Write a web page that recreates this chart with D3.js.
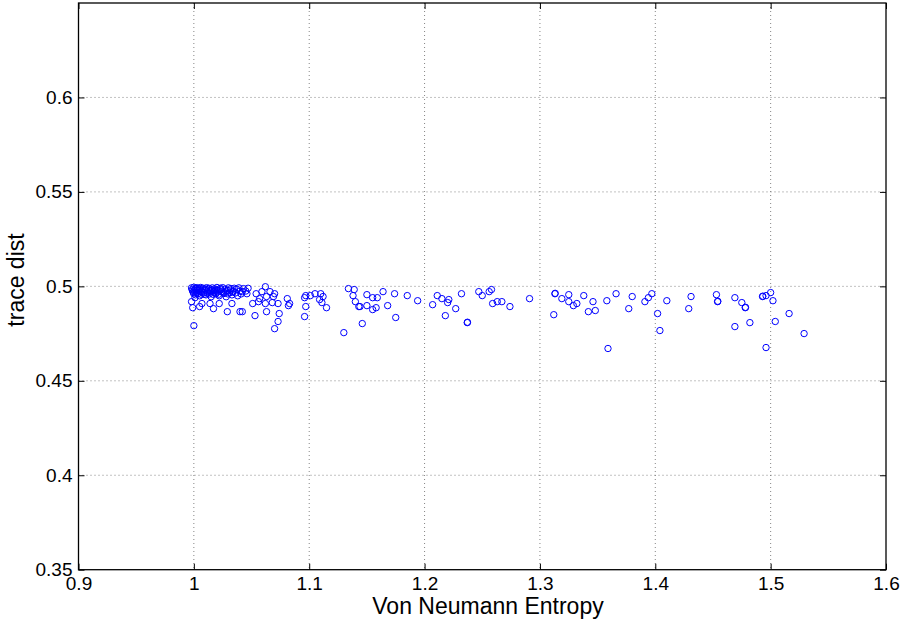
<!DOCTYPE html>
<html>
<head>
<meta charset="utf-8">
<script src="https://cdn.jsdelivr.net/npm/d3@7/dist/d3.min.js"></script>
<style>
  html, body { margin: 0; padding: 0; background: #fff; }
  svg { display: block; }
  text { font-family: "Liberation Sans", Arial, Helvetica, sans-serif; fill: #000; }
</style>
</head>
<body>
<svg id="chart" width="900" height="625"></svg>
<script>
// ---- Data ----
const xTicks = [0.9, 1.0, 1.1, 1.2, 1.3, 1.4, 1.5, 1.6];
const xTickLabels = ["0.9", "1", "1.1", "1.2", "1.3", "1.4", "1.5", "1.6"];
const yTicks = [0.35, 0.4, 0.45, 0.5, 0.55, 0.6];
const yTickLabels = ["0.35", "0.4", "0.45", "0.5", "0.55", "0.6"];
const xLabel = "Von Neumann Entropy";
const yLabel = "trace dist";

const entropy = [
  0.998,0.999,1.000,1.000,1.001,1.001,1.002,1.002,1.003,1.004,1.005,1.005,1.006,1.007,1.008,1.009,1.010,1.011,1.012,1.013,
  1.014,1.015,1.016,1.017,1.018,1.019,1.020,1.021,1.022,1.023,1.024,1.025,1.026,1.027,1.028,1.029,1.030,1.031,1.032,1.033,
  1.034,1.035,1.036,1.037,1.038,1.039,1.040,1.041,1.043,1.045,1.047,
  0.9985,0.9995,1.0005,1.0015,1.0025,1.0035,1.0045,1.0055,1.0065,1.0075,1.0085,1.0095,1.0105,1.0115,1.0125,1.0135,1.0145,1.0155,
  1.0165,1.0175,1.0185,1.0195,1.0205,1.0215,1.0235,1.0255,1.0275,1.0295,1.0315,1.0335,
  0.998,0.999,1.005,1.007,1.014,1.017,1.022,1.029,1.033,1.040,1.000,
  1.042,1.046,1.054,1.062,1.059,1.066,1.070,1.069,1.063,1.057,1.051,1.056,1.062,1.068,1.073,1.081,1.083,1.082,1.042,1.053,
  1.063,1.074,1.073,1.070,
  1.097,1.096,1.101,1.105,1.110,1.112,1.109,1.111,1.115,1.097,1.096,1.134,1.139,1.138,1.140,1.144,1.150,1.155,1.159,1.150,
  1.155,1.158,1.164,1.168,1.174,1.175,1.185,1.194,1.146,1.130,1.211,1.215,1.220,1.207,1.218,1.143,
  1.221,1.227,1.232,1.237,1.2372,1.247,1.250,1.256,1.258,1.259,1.263,1.267,1.274,1.291,1.313,1.3132,1.312,1.319,1.325,1.325,
  1.329,1.332,1.338,1.346,1.342,1.348,
  1.358,1.366,1.377,1.380,1.391,1.394,1.397,1.402,1.404,1.410,1.429,1.431,1.453,1.454,1.4542,1.469,1.475,1.478,1.4782,1.469,
  1.482,1.359,
  1.493,1.4932,1.496,1.500,1.502,1.504,1.516,1.496,1.529
];
const traceDist = [
  0.4992,0.4975,0.4995,0.4960,0.4985,0.4940,0.4990,0.4968,0.4993,0.4978,0.4988,0.4950,0.4994,0.4970,0.4990,0.4958,0.4985,0.4993,0.4965,0.4990,
  0.4978,0.4945,0.4992,0.4970,0.4987,0.4960,0.4994,0.4980,0.4950,0.4990,0.4972,0.4993,0.4962,0.4985,0.4945,0.4978,0.4992,0.4966,0.4988,0.4955,
  0.4975,0.4990,0.4965,0.4985,0.4950,0.4992,0.4975,0.4960,0.4988,0.4975,0.4990,
  0.4982,0.4968,0.4978,0.4955,0.4980,0.4962,0.4984,0.4972,0.4958,0.4982,0.4966,0.4980,0.4955,0.4975,0.4984,0.4960,0.4970,0.4982,
  0.4958,0.4978,0.4966,0.4982,0.4970,0.4958,0.4982,0.4966,0.4975,0.4960,0.4980,0.4970,
  0.4919,0.4887,0.4893,0.4909,0.4909,0.4882,0.4909,0.4866,0.4909,0.4866,0.4792,
  0.4972,0.4961,0.4961,0.4998,0.4972,0.4972,0.4961,0.4946,0.4946,0.4935,0.4909,0.4919,0.4909,0.4914,0.4909,0.4935,0.4909,0.4898,0.4866,0.4845,
  0.4866,0.4856,0.4814,0.4776,
  0.4951,0.4940,0.4951,0.4961,0.4961,0.4946,0.4930,0.4914,0.4887,0.4893,0.4840,0.4988,0.4983,0.4951,0.4919,0.4893,0.4956,0.4940,0.4940,0.4898,
  0.4877,0.4887,0.4972,0.4898,0.4961,0.4835,0.4951,0.4924,0.4803,0.4755,0.4951,0.4935,0.4914,0.4903,0.4845,0.4893,
  0.4930,0.4882,0.4961,0.4808,0.4810,0.4972,0.4951,0.4972,0.4983,0.4909,0.4919,0.4919,0.4893,0.4935,0.4961,0.4963,0.4850,0.4935,0.4956,0.4919,
  0.4898,0.4909,0.4951,0.4919,0.4866,0.4872,
  0.4924,0.4961,0.4882,0.4946,0.4919,0.4940,0.4961,0.4856,0.4766,0.4924,0.4882,0.4946,0.4956,0.4919,0.4921,0.4940,0.4914,0.4887,0.4889,0.4787,
  0.4808,0.4671,
  0.4946,0.4948,0.4951,0.4967,0.4924,0.4814,0.4856,0.4676,0.4750
];

// ---- Layout ----
const svg = d3.select("#chart");
const mLeft = 78.5, mRight = 886, mTop = 3, mBottom = 569.7;

const x = d3.scaleLinear().domain([0.9, 1.6]).range([mLeft, mRight]);
const y = d3.scaleLinear().domain([0.35, 0.65]).range([mBottom, mTop]);

// grid
const grid = svg.append("g");
grid.selectAll("line.gx").data(xTicks.slice(1, -1)).enter().append("line")
  .attr("x1", d => x(d)).attr("x2", d => x(d)).attr("y1", mTop).attr("y2", mBottom)
  .attr("stroke", "#666").attr("stroke-width", 0.8).attr("stroke-dasharray", "1,3");
grid.selectAll("line.gy").data(yTicks.slice(1)).enter().append("line")
  .attr("y1", d => y(d)).attr("y2", d => y(d)).attr("x1", mLeft).attr("x2", mRight)
  .attr("stroke", "#666").attr("stroke-width", 0.8).attr("stroke-dasharray", "1,3");

// axes (ticks inside, MATLAB style)
const tickLen = 6;
const xAxisB = d3.axisBottom(x).tickValues(xTicks).tickSize(-tickLen).tickPadding(7)
  .tickFormat((d, i) => xTickLabels[i]);
const xAxisT = d3.axisTop(x).tickValues(xTicks).tickSize(-tickLen).tickFormat("");
const yAxisL = d3.axisLeft(y).tickValues(yTicks).tickSize(-tickLen).tickPadding(6)
  .tickFormat((d, i) => yTickLabels[i]);
const yAxisR = d3.axisRight(y).tickValues(yTicks).tickSize(-tickLen).tickFormat("");

function styleAxis(g) {
  g.select(".domain").remove();
  g.selectAll(".tick line").attr("stroke", "#000").attr("stroke-width", 1);
  g.selectAll(".tick text").attr("font-size", 19).attr("fill", "#000")
    .style("font-family", "'Liberation Sans', Arial, sans-serif");
}
svg.append("g").attr("transform", `translate(0,${mBottom})`).call(xAxisB).call(styleAxis);
svg.append("g").attr("transform", `translate(0,${mTop})`).call(xAxisT).call(styleAxis);
svg.append("g").attr("transform", `translate(${mLeft},0)`).call(yAxisL).call(styleAxis);
svg.append("g").attr("transform", `translate(${mRight},0)`).call(yAxisR).call(styleAxis);

// frame
svg.append("rect").attr("x", mLeft).attr("y", mTop).attr("width", mRight - mLeft).attr("height", mBottom - mTop)
  .attr("fill", "none").attr("stroke", "#000").attr("stroke-width", 1.3);

// points
const pts = entropy.map((e, i) => ({ e, t: traceDist[i] }));
svg.append("g").selectAll("circle").data(pts).enter().append("circle")
  .attr("cx", d => x(d.e)).attr("cy", d => y(d.t)).attr("r", 3.2)
  .attr("fill", "none").attr("stroke", "#0000ff").attr("stroke-width", 1);

// labels
svg.append("text").attr("x", 488).attr("y", 614).attr("text-anchor", "middle")
  .attr("font-size", 23).text(xLabel);
svg.append("text").attr("transform", `translate(24,280) rotate(-90)`)
  .attr("text-anchor", "middle").attr("font-size", 23).text(yLabel);
</script>
</body>
</html>
